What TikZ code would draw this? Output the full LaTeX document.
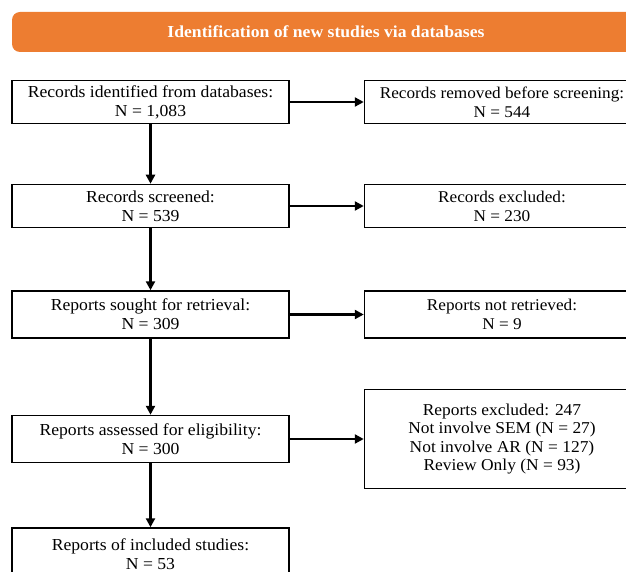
\documentclass[tikz,border=0pt]{standalone}
\usepackage{fontspec}
\setmainfont{Liberation Serif}[FakeStretch=1.05]
\usetikzlibrary{positioning}
\usetikzlibrary{arrows.meta}
\definecolor{prismaorange}{RGB}{237,125,49}

\begin{document}
\begin{tikzpicture}[x=1pt,y=-1pt,
    box/.style={draw,line width=1.5pt,minimum width=277pt,minimum height=43pt,
      align=center,inner sep=0pt,font=\fontsize{16.8}{19}\selectfont},
    side/.style={box,minimum width=275pt,font=\fontsize{16.4}{19}\selectfont},
    head/.style={fill=prismaorange,rounded corners=8pt,minimum width=628pt,
      minimum height=40pt,text=white,font=\fontsize{16.8}{19}\selectfont\bfseries}]
  \clip (0,0) rectangle (626,572);
  \node (hdr) [head] at (326,32) {Identification of new studies via databases};
  % left column
  \node (idf) [box] at (150.5,102) {Records identified from databases:\\N = 1,083};
  \node (scr) [box,below=59.5pt of idf] {Records screened:\\N = 539};
  \node (sgt) [box,minimum height=47pt,below=62pt of scr] {Reports sought for retrieval:\\N = 309};
  \node (asd) [box,minimum height=47pt,below=76pt of sgt] {Reports assessed for eligibility:\\N = 300};
  \node (inc) [box,minimum height=52pt,below=64pt of asd] {Reports of included studies:\\N = 53};
  % right column
  \node (rmv) [side,right=74pt of idf] {Records removed before screening:\\N = 544};
  \node (exc) [side,right=74pt of scr] {Records excluded:\\N = 230};
  \node (nrt) [side,minimum height=47pt,right=74pt of sgt] {Reports not retrieved:\\N = 9};
  \node (rex) [side,minimum height=99pt,font=\fontsize{16.6}{18.6}\selectfont,right=74pt of asd]
    {Reports excluded: 247\\Not involve SEM (N = 27)\\Not involve AR (N = 127)\\Review Only (N = 93)};
  \path[-{Stealth[inset=0pt,length=9pt,width=9pt]},line width=2.6pt]
    (idf) edge (scr)
    (scr) edge (sgt)
    (sgt) edge (asd)
    (asd) edge (inc)
    (idf) edge (rmv)
    (scr) edge (exc)
    (sgt) edge (nrt)
    (asd) edge (rex);
\end{tikzpicture}
\end{document}
